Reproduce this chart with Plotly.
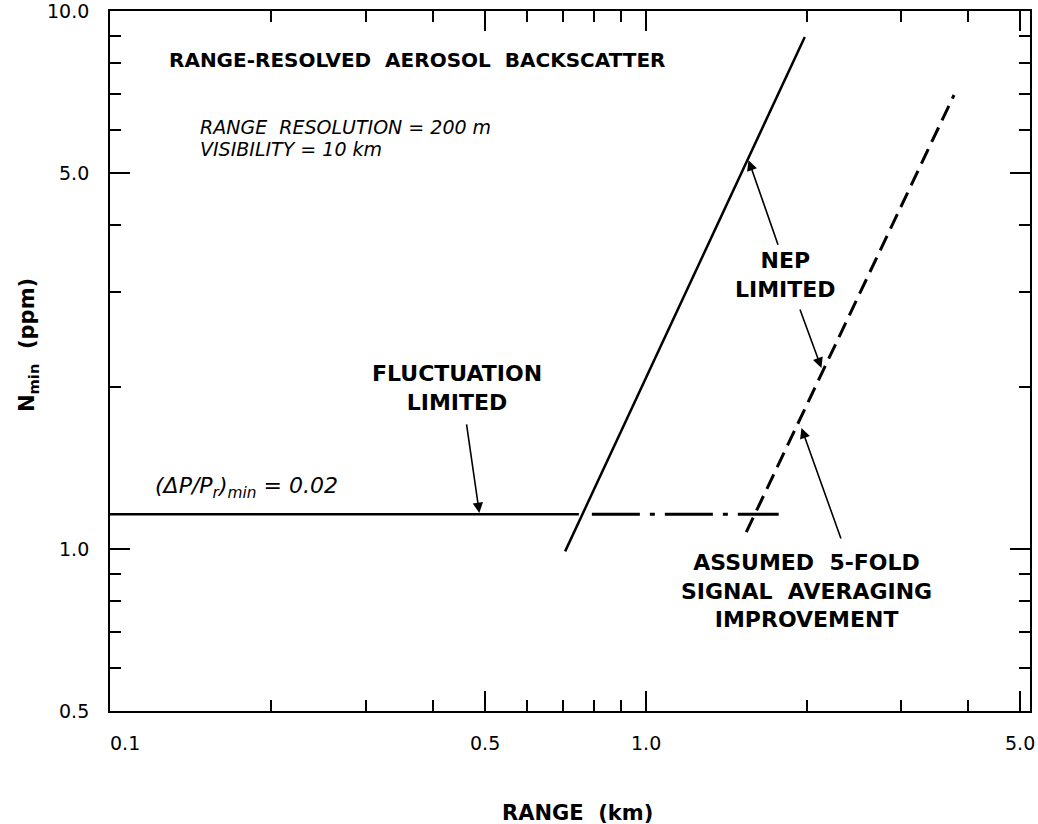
import math
import plotly.graph_objects as go

# ---------------- data ----------------
fluct_x = [0.1, 0.75]          # fluctuation-limited (solid)
fluct_y = [1.16, 1.16]
fluct_ext_x = [0.793, 1.77]    # continuation (dash-dot)
fluct_ext_y = [1.16, 1.16]
nep_x = [0.707, 1.98]          # NEP limited (solid)
nep_y = [0.99, 8.95]
avg_x = [1.54, 3.76]           # NEP limited with 5-fold averaging (dashed)
avg_y = [1.075, 6.98]

x_tick_vals = [0.1, 0.5, 1.0, 5.0]
x_tick_text = ["0.1", "0.5", "1.0", "5.0"]
x_minor_vals = [0.2, 0.3, 0.4, 0.6, 0.7, 0.8, 0.9, 2, 3, 4]
y_tick_vals = [0.5, 1.0, 5.0, 10.0]
y_tick_text = ["0.5", "1.0", "5.0", "10.0"]
y_minor_vals = [0.6, 0.7, 0.8, 0.9, 2, 3, 4, 6, 7, 8, 9]

FONT = "DejaVu Sans"
L = math.log10

fig = go.Figure()
fig.add_trace(go.Scatter(x=fluct_x, y=fluct_y, mode="lines",
                         line=dict(color="black", width=2.5), showlegend=False))
fig.add_trace(go.Scatter(x=fluct_ext_x, y=fluct_ext_y, mode="lines",
                         line=dict(color="black", width=3, dash="48px,10px,5px,10px"),
                         showlegend=False))
fig.add_trace(go.Scatter(x=nep_x, y=nep_y, mode="lines",
                         line=dict(color="black", width=2.5), showlegend=False))
fig.add_trace(go.Scatter(x=avg_x, y=avg_y, mode="lines",
                         line=dict(color="black", width=3, dash="16px,8px"),
                         showlegend=False))

axis_common = dict(type="log", showgrid=False, zeroline=False, showline=True,
                   linecolor="black", linewidth=2, mirror="ticks",
                   ticks="inside", ticklen=20, tickwidth=2, tickcolor="black",
                   tickmode="array", showticklabels=False)

fig.update_xaxes(**axis_common, range=[-1, 0.717], tickvals=x_tick_vals,
                 ticktext=x_tick_text,
                 minor=dict(tickvals=x_minor_vals, ticks="inside", ticklen=11,
                            tickwidth=2, tickcolor="black", showgrid=False))
fig.update_yaxes(**axis_common, range=[L(0.5), 1.0], tickvals=y_tick_vals,
                 ticktext=y_tick_text,
                 minor=dict(tickvals=y_minor_vals, ticks="inside", ticklen=11,
                            tickwidth=2, tickcolor="black", showgrid=False))

ann = []
# x tick labels
for v, t in zip(x_tick_vals, x_tick_text):
    ann.append(dict(x=L(v), y=0, xref="x", yref="paper", text=t, showarrow=False,
                    xanchor="center", yanchor="middle", yshift=-32,
                    xshift=15 if v == x_tick_vals[0] else 0,
                    font=dict(family=FONT, size=19, color="black")))
# y tick labels
for v, t in zip(y_tick_vals, y_tick_text):
    ann.append(dict(x=0, y=L(v), xref="paper", yref="y", text=t, showarrow=False,
                    xanchor="right", yanchor="middle", xshift=-19,
                    font=dict(family=FONT, size=19, color="black")))

def txt(x, y, text, size, xanchor="center"):
    ann.append(dict(x=L(x), y=L(y), xref="x", yref="y", text=text, showarrow=False,
                    xanchor=xanchor, yanchor="middle", align="center",
                    font=dict(family=FONT, size=size, color="black")))

txt(0.1277, 8.1, "<b>RANGE-RESOLVED  AEROSOL  BACKSCATTER</b>", 20, "left")
txt(0.146, 6.1, "<i>RANGE  RESOLUTION = 200 m</i>", 19, "left")
txt(0.146, 5.55, "<i>VISIBILITY = 10 km</i>", 19, "left")
txt(0.1202, 1.30, "<i>(ΔP/P<sub>r</sub>)<sub>min</sub> = 0.02</i>", 22, "left")
txt(0.4446, 1.99, "<b>FLUCTUATION<br>LIMITED</b>", 22)
txt(1.823, 3.23, "<b>NEP<br>LIMITED</b>", 22)
txt(1.994, 0.834, "<b>ASSUMED  5-FOLD<br>SIGNAL  AVERAGING<br>IMPROVEMENT</b>", 22)

def arrow(x, y, ax, ay):
    ann.append(dict(x=L(x), y=L(y), xref="x", yref="y", text="", showarrow=True,
                    ax=ax, ay=ay, arrowhead=2, arrowsize=1.3, arrowwidth=1.6,
                    arrowcolor="black", standoff=0, startstandoff=0))

arrow(0.489, 1.167, -13, -90)
arrow(1.555, 5.28, 30, 86)
arrow(2.127, 2.17, -22, -60)
arrow(1.952, 1.679, 40, 112)

# axis titles
ann.append(dict(x=0.508, y=-0.145, xref="paper", yref="paper",
                text="<b>RANGE  (km)</b>", showarrow=False,
                xanchor="center", yanchor="middle",
                font=dict(family=FONT, size=21, color="black")))
ann.append(dict(x=-0.089, y=0.523, xref="paper", yref="paper",
                text="<b>N<sub>min</sub>  (ppm)</b>", showarrow=False,
                textangle=-90, xanchor="center", yanchor="middle",
                font=dict(family=FONT, size=21, color="black")))

fig.update_layout(width=1038, height=824, autosize=False,
                  margin=dict(l=110, r=6, t=11, b=113),
                  paper_bgcolor="white", plot_bgcolor="white",
                  annotations=ann, showlegend=False)

fig.write_html("out.html")
